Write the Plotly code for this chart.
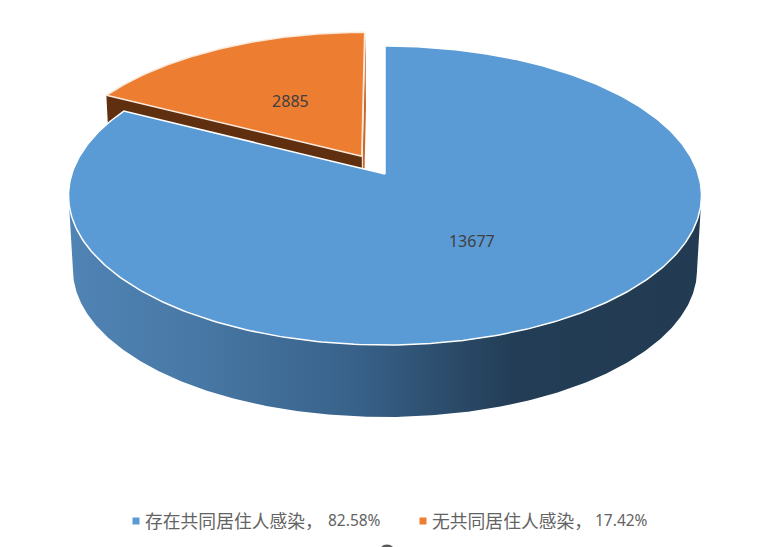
import numpy as np
import plotly.graph_objects as go

# data
categories = ["存在共同居住人感染", "无共同居住人感染"]
values = [13677, 2885]
shares = ["82.58%", "17.42%"]

TOP_COLORS = ["#5B9BD5", "#EC7D31"]
SIDE_ORANGE = "#5F2F10"
FACE_ORANGE = "#C8682A"
TEXT_DARK = "#404040"
TEXT_LEGEND = "#636363"
FONT = "Noto Sans CJK SC, Noto Sans, sans-serif"

# pie projection, the disc is seen in perspective so the far half looks shorter
CX, CY = 385.0, 174.0
RX, RY = 313.2, 146.4
PERSP = 0.1438
DEPTH_Y = 74.4
DEPTH_SCALE = 0.986
EXPLODE = 0.145
LABEL_DY = 2.0


def project(u, v, lower=False):
    u, v = np.asarray(u, dtype=float), np.asarray(v, dtype=float)
    den = 1 + PERSP * v
    x, y = RX * u / den, -RY * v / den
    if lower:
        return CX + x * DEPTH_SCALE, CY + DEPTH_Y + y * DEPTH_SCALE
    return CX + x, CY + y


def disc(theta, off=(0.0, 0.0), r=1.0):
    return r * np.sin(theta) + off[0], r * np.cos(theta) + off[1]


def poly(fig, x, y, color, line=None, **kw):
    fig.add_trace(go.Scatter(x=list(x), y=list(y), mode="lines", fill="toself", fillcolor=color,
                             line=dict(color=line or "rgba(0,0,0,0)", width=1.5 if line else 0),
                             hoverinfo="skip", showlegend=False, **kw))


total = sum(values)
orange_span = 2 * np.pi * values[1] / total
blue_th = np.linspace(0, 2 * np.pi - orange_span, 400)
orange_th = np.linspace(-orange_span, 0, 120)
orange_mid = -orange_span / 2
off = (EXPLODE * np.sin(orange_mid), EXPLODE * np.cos(orange_mid))

fig = go.Figure()

# exploded slice first, the big slice covers its lower part
ou, ov = disc(orange_th, off)
ax, ay = project(off[0], off[1])
axl, ayl = project(off[0], off[1], lower=True)
lx0, ly0 = project(ou[0], ov[0])
lx0b, ly0b = project(ou[0], ov[0], lower=True)
rx1, ry1 = project(ou[-1], ov[-1])
rx1b, ry1b = project(ou[-1], ov[-1], lower=True)
poly(fig, [lx0, ax, axl, lx0b, lx0], [ly0, ay, ayl, ly0b, ly0], SIDE_ORANGE)
poly(fig, [rx1 + 1, ax + 1, axl + 1, rx1b + 1], [ry1, ay, ayl, ry1b], FACE_ORANGE)
ox, oy = project(ou, ov)
poly(fig, list(ox) + [ax, ox[0]], list(oy) + [ay, oy[0]], TOP_COLORS[1], line="#FBE9DC")

# side wall of the big slice
tangent = np.arccos(-PERSP)
wall_th = np.linspace(tangent, 2 * np.pi - tangent, 300)
wu, wv = disc(wall_th)
tx, ty = project(wu, wv)
bx, by = project(wu, wv, lower=True)
poly(fig, list(tx) + list(bx[::-1]), list(ty) + list(by[::-1]), "#3C648C",
     fillgradient=dict(type="horizontal", start=69, stop=702,
                       colorscale=[[0, "#5084B5"], [0.2, "#4878A5"], [0.45, "#38628A"],
                                   [0.7, "#233D56"], [1, "#223B52"]]))

# top of the big slice
bu, bv = disc(blue_th)
px, py = project(bu, bv)
poly(fig, [CX] + list(px) + [CX], [CY] + list(py) + [CY], TOP_COLORS[0], line="#FFFFFF")

# value labels
lab_u, lab_v = disc(np.array([np.pi - orange_span / 2]), r=0.5)
lab_x, lab_y = project(lab_u, lab_v)
lab2_u, lab2_v = disc(np.array([orange_mid]), off, r=0.48)
lab2_x, lab2_y = project(lab2_u, lab2_v)
fig.add_trace(go.Scatter(x=[lab_x[0], lab2_x[0]], y=[lab_y[0] + LABEL_DY, lab2_y[0] + LABEL_DY], mode="text",
                         text=[str(v) for v in values], textposition="middle center",
                         textfont=dict(family="Noto Sans", size=16, color=TEXT_DARK),
                         hoverinfo="skip", showlegend=False))

# legend drawn by hand, keeps the spacing of the original
for i, cat in enumerate(categories):
    lx = [136, 423][i]
    fig.add_trace(go.Scatter(x=[lx], y=[521], mode="markers",
                             marker=dict(symbol="square", size=7, color=TOP_COLORS[i]),
                             hoverinfo="skip", showlegend=False))
    fig.add_annotation(x=lx + 7, y=520, xanchor="left", yanchor="middle", showarrow=False,
                       text=f"{cat}，", font=dict(family=FONT, size=17.8, color=TEXT_LEGEND))
    fig.add_annotation(x=[383, 650][i], y=520, xanchor="right", yanchor="middle", showarrow=False,
                       text=shares[i], font=dict(family="Noto Sans", size=15.5, color=TEXT_LEGEND))

# bit of cut off glyph at the bottom edge
fig.add_trace(go.Scatter(x=[387], y=[553], mode="markers",
                         marker=dict(symbol="circle-open", size=14, color="#595959", line=dict(width=3, color="#595959")),
                         hoverinfo="skip", showlegend=False))

fig.update_layout(width=774, height=547, margin=dict(l=0, r=0, t=0, b=0),
                  paper_bgcolor="white", plot_bgcolor="white", showlegend=False)
fig.update_xaxes(range=[0, 774], visible=False, fixedrange=True)
fig.update_yaxes(range=[547, 0], visible=False, fixedrange=True)

fig.write_html("out.html", config={"displayModeBar": False}, post_script="document.body.style.margin='0';")
